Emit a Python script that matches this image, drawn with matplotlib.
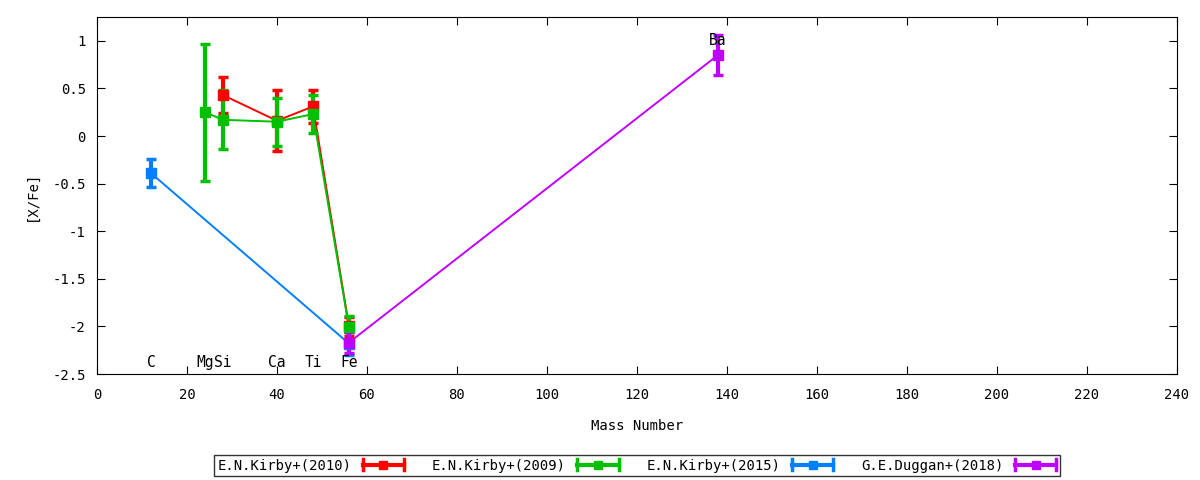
import matplotlib
matplotlib.use("Agg")
import matplotlib.pyplot as plt
from matplotlib.lines import Line2D

# element labels
elem_names = ["C", "Mg", "Si", "Ca", "Ti", "Fe", "Ba"]
elem_mass = [12, 24, 28, 40, 48, 56, 138]

# E.N.Kirby+(2010)
kirby10_x = [28, 40, 48, 56]
kirby10_y = [0.43, 0.16, 0.31, -2.00]
kirby10_err = [0.19, 0.32, 0.17, 0.10]

# E.N.Kirby+(2009)
kirby09_x = [24, 28, 40, 48, 56]
kirby09_y = [0.25, 0.17, 0.15, 0.23, -2.01]
kirby09_err = [0.72, 0.31, 0.25, 0.20, 0.12]

# E.N.Kirby+(2015)
kirby15_x = [12, 56]
kirby15_y = [-0.39, -2.18]
kirby15_err = [0.15, 0.12]

# G.E.Duggan+(2018)
duggan18_x = [56, 138]
duggan18_y = [-2.17, 0.85]
duggan18_err = [0.11, 0.21]

series = [
    ("E.N.Kirby+(2010)", kirby10_x, kirby10_y, kirby10_err, "#ff0000"),
    ("E.N.Kirby+(2009)", kirby09_x, kirby09_y, kirby09_err, "#00c000"),
    ("E.N.Kirby+(2015)", kirby15_x, kirby15_y, kirby15_err, "#0080ff"),
    ("G.E.Duggan+(2018)", duggan18_x, duggan18_y, duggan18_err, "#c000ff"),
]


# gnuplot-like legend sample: horizontal bar with end caps and a square
class ErrSampleHandler:
    def legend_artist(self, legend, orig_handle, fontsize, handlebox):
        x0, y0 = -handlebox.xdescent, -handlebox.ydescent
        w, h = handlebox.width, handlebox.height
        col = orig_handle.get_color()
        yc = y0 + h / 2
        tr = handlebox.get_transform()
        bar = Line2D([x0, x0 + w], [yc, yc], color=col, lw=3, transform=tr)
        cap1 = Line2D([x0, x0], [yc - 4, yc + 4], color=col, lw=2.5, transform=tr)
        cap2 = Line2D([x0 + w, x0 + w], [yc - 4, yc + 4], color=col, lw=2.5, transform=tr)
        sq = Line2D([x0 + w / 2], [yc], color=col, marker="s", markersize=6,
                    linestyle="none", transform=tr)
        for a in (bar, cap1, cap2, sq):
            handlebox.add_artist(a)
        return bar


plt.rcParams["font.family"] = ["DejaVu Sans Mono"]
plt.rcParams["font.size"] = 10

fig = plt.figure(figsize=(12, 4.8), dpi=100, facecolor="white")
ax = fig.add_axes([0.0808, 0.2208, 0.9, 0.7438])

handles = []
for name, xs, ys, errs, col in series:
    ax.plot(xs, ys, color=col, linewidth=1.4, zorder=2)
    ax.errorbar(xs, ys, yerr=errs, fmt="s", color=col, markersize=7,
                elinewidth=3, capsize=3.5, capthick=2.5, zorder=3)
    handles.append(Line2D([], [], color=col, label=name))

for name, m in zip(elem_names, elem_mass):
    yy = 1.0 if name == "Ba" else -2.38
    ax.text(m, yy, name, ha="center", va="center", fontsize=10.5, zorder=4)

ax.set_xlim(0, 240)
ax.set_ylim(-2.5, 1.25)
ax.set_xticks(range(0, 241, 20))
ax.set_yticks([-2.5, -2, -1.5, -1, -0.5, 0, 0.5, 1])
ax.set_yticklabels(["-2.5", "-2", "-1.5", "-1", "-0.5", "0", "0.5", "1"])
ax.tick_params(direction="in", top=True, right=True, length=6, labelsize=10, pad=8)
ax.tick_params(axis="x", pad=10)
ax.set_xlabel("Mass Number", fontsize=10, labelpad=12)
ax.set_ylabel("[X/Fe]", fontsize=10, labelpad=10)

leg = ax.legend(handles=handles, handler_map={Line2D: ErrSampleHandler()},
                loc="upper center", bbox_to_anchor=(0.5, -0.227), ncol=4,
                markerfirst=False, frameon=True, fancybox=False,
                fontsize=10, handlelength=3.0, columnspacing=2.0,
                borderpad=0.25, handletextpad=0.8, borderaxespad=0)
leg.get_frame().set_edgecolor("black")
leg.get_frame().set_linewidth(1)

fig.savefig("out.png", dpi=100, facecolor="white")
